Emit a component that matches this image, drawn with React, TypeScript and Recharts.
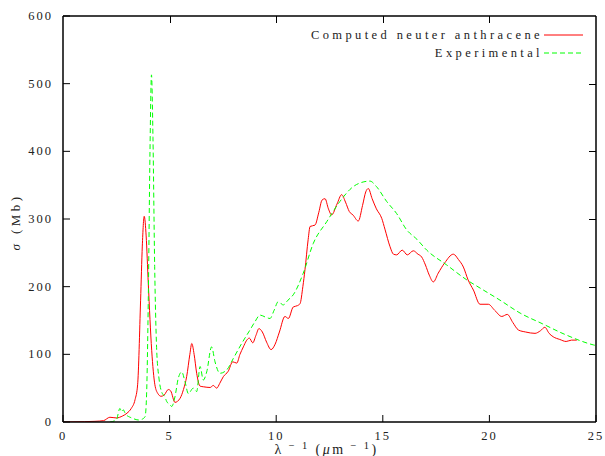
import React from "react";
import { LineChart, Line, XAxis, YAxis, Legend, CartesianGrid } from "recharts";

// computed neuter anthracene cross section
const computedX = [
  0, 1.0, 1.5, 1.9, 2.2, 2.5, 2.8, 3.0, 3.2, 3.38, 3.5, 3.64, 3.72, 3.81, 3.9, 4.0, 4.16, 4.31, 4.45, 4.6,
  4.75, 4.94, 5.05, 5.25, 5.49, 5.65, 5.8, 5.95, 6.04, 6.15, 6.27, 6.43, 6.6, 6.9, 7.05, 7.21, 7.35, 7.52, 7.75, 7.96,
  8.15, 8.3, 8.46, 8.6, 8.74, 8.9, 9.05, 9.19, 9.35, 9.55, 9.76, 9.95, 10.15, 10.41, 10.57, 10.8, 11.0, 11.12, 11.25, 11.35,
  11.5, 11.59, 11.82, 12.0, 12.15, 12.29, 12.45, 12.6, 12.85, 13.07, 13.25, 13.43, 13.6, 13.85, 14.05, 14.2, 14.32, 14.5, 14.7, 14.95,
  15.1, 15.34, 15.5, 15.65, 15.91, 16.15, 16.43, 16.65, 16.82, 17.0, 17.18, 17.37, 17.6, 17.9, 18.31, 18.55, 18.78, 19.0, 19.25, 19.56,
  19.95, 20.25, 20.58, 20.84, 21.1, 21.36, 21.7, 22.14, 22.4, 22.6, 22.8, 22.99, 23.3, 23.6, 23.85, 24.1,
];
const computedY = [
  0, 0.5, 1, 2, 7, 6, 9, 13, 20, 33, 55, 180, 260, 304, 275, 205, 106, 55, 42, 38,
  40, 48, 46, 29, 35, 48, 67, 100, 116, 100, 72, 53, 52, 51, 54, 50, 57, 67, 75, 89,
  87, 100, 111, 120, 124, 117, 128, 138, 133, 118, 107, 115, 133, 156, 153, 170, 172, 175, 200, 225,
  270, 289, 291, 310, 328, 330, 315, 306, 322, 336, 325, 311, 306, 297, 320, 340, 345, 330, 315, 301,
  285, 259, 248, 247, 254, 247, 253, 248, 244, 232, 217, 207, 220, 235, 248, 240, 229, 210, 195, 174,
  174, 165, 156, 159, 147, 136, 133, 131, 135, 140, 131, 126, 122, 119, 121, 121,
];

// experimental data
const experimentalX = [
  2.2, 2.5, 2.67, 2.75, 2.83, 2.9, 2.99, 3.15, 3.3, 3.53, 3.7, 3.85, 3.92, 4.0, 4.08, 4.15, 4.22, 4.3, 4.39, 4.5,
  4.62, 4.78, 4.87, 5.0, 5.1, 5.25, 5.41, 5.57, 5.72, 5.88, 6.11, 6.27, 6.43, 6.58, 6.74, 6.97, 7.13, 7.36, 7.68, 7.99,
  8.38, 8.77, 9.0, 9.24, 9.5, 9.71, 9.9, 10.1, 10.33, 10.55, 10.8, 11.27, 11.74, 12.37, 12.99, 13.62, 14.0, 14.4, 14.7, 15.18,
  15.65, 16.12, 16.6, 17.06, 18.0, 18.94, 19.56, 20.5, 21.44, 22.5, 23.5, 24.87, 25,
];
const experimentalY = [
  0, 3, 20, 15, 18, 14, 10, 7, 5, 3, 4, 8, 40, 180, 400, 513, 420, 230, 110, 65,
  45, 37, 30, 26, 23, 37, 65, 74, 60, 42, 50, 45, 82, 62, 74, 111, 89, 72, 77, 94,
  116, 136, 148, 158, 155, 153, 165, 178, 173, 180, 188, 220, 264, 296, 326, 348, 354, 356, 348, 326,
  308, 284, 270, 254, 232, 210, 198, 180, 161, 145, 130, 114, 113,
];

const xTicks = [0, 5, 10, 15, 20, 25];
const yTicks = [0, 100, 200, 300, 400, 500, 600];
const X_MAX = 25;
const Y_MAX = 600;

const computed = computedX.map((x, i) => ({ x, y: computedY[i] }));
const experimental = experimentalX.map((x, i) => ({ x, y: experimentalY[i] }));

const W = 605;
const H = 456;
const Y_AXIS_W = 63;
const X_AXIS_H = 34;
const MARGIN = { top: 16, right: 9, bottom: 0, left: 0 };
const PLOT_LEFT = MARGIN.left + Y_AXIS_W;
const PLOT_TOP = MARGIN.top;
const PLOT_W = W - MARGIN.right - PLOT_LEFT;
const PLOT_H = H - X_AXIS_H - PLOT_TOP;
const TICK = 7;

const FONT = "'Liberation Serif', serif";
const TEXT = "#222";
const AXIS = { stroke: "#000", strokeWidth: 1.5 };

// with tickSize = -TICK and tickMargin = TICK the label anchor lands on the axis line
const BottomTick = (props: any) => (
  <text x={props.x} y={Number(props.y) + 18} textAnchor="middle" fontFamily={FONT} fontSize={12.5} letterSpacing={2} fill={TEXT}>
    {props.payload.value}
  </text>
);
const LeftTick = (props: any) => (
  <text x={Number(props.x) - 10} y={Number(props.y) + 4} textAnchor="end" fontFamily={FONT} fontSize={12.5} letterSpacing={2} fill={TEXT}>
    {props.payload.value}
  </text>
);

const YLabel = ({ viewBox }: any) => {
  const cx = 20;
  const cy = viewBox.y + viewBox.height / 2 + 3;
  return (
    <text x={cx} y={cy} transform={`rotate(-90 ${cx} ${cy})`} textAnchor="middle" fontFamily={FONT} fontSize={13} letterSpacing={3.4} fill={TEXT}>
      <tspan fontStyle="italic">σ</tspan> (Mb)
    </text>
  );
};

const XLabel = ({ viewBox }: any) => {
  const cx = viewBox.x + viewBox.width / 2 - 3;
  return (
    <text x={cx} y={454} textAnchor="middle" fontFamily={FONT} fontSize={14} letterSpacing={2.4} fill={TEXT}>
      λ<tspan dy={-5} fontSize={10.5}> − 1</tspan>
      <tspan dy={5}> (</tspan>
      <tspan fontStyle="italic">μ</tspan>m<tspan dy={-5} fontSize={10.5}> − 1</tspan>
      <tspan dy={5}>)</tspan>
    </text>
  );
};

// mirrored top/right ticks, drawn from the legend so they sit inside the chart wrapper
const MirrorTicks = ({ offsetLeft, offsetTop }: { offsetLeft: number; offsetTop: number }) => {
  const px = (t: number) => PLOT_LEFT + (t / X_MAX) * PLOT_W - offsetLeft;
  const py = (t: number) => PLOT_TOP + PLOT_H - (t / Y_MAX) * PLOT_H - offsetTop;
  const bar = (left: number, top: number, width: number, height: number, key: string) => (
    <div key={key} style={{ position: "absolute", left, top, width, height, background: "#000" }} />
  );
  return (
    <>
      {xTicks.slice(1, -1).map((t) => bar(Math.round(px(t)), PLOT_TOP - offsetTop, 1, TICK, `xt${t}`))}
      {yTicks.slice(1, -1).map((t) => bar(PLOT_LEFT + PLOT_W - TICK - offsetLeft, Math.round(py(t)), TICK, 1, `yr${t}`))}
    </>
  );
};

const LEGEND_LEFT = 280;
const LEGEND_TOP = 26;

const LegendBox = () => {
  const items = [
    { name: "Computed neuter anthracene", color: "#ff0000", dash: undefined },
    { name: "Experimental", color: "#00ff00", dash: "5 3" },
  ];
  return (
    <div style={{ position: "relative", fontFamily: FONT, fontSize: 12.5, letterSpacing: 3.4, color: TEXT }}>
      {items.map((it) => (
        <div key={it.name} style={{ display: "flex", justifyContent: "flex-end", alignItems: "center", height: 18 }}>
          <span>{it.name}</span>
          <svg width={39} height={4} style={{ marginLeft: 1 }}>
            <line x1={0} x2={39} y1={2} y2={2} stroke={it.color} strokeDasharray={it.dash} />
          </svg>
        </div>
      ))}
      <MirrorTicks offsetLeft={LEGEND_LEFT} offsetTop={LEGEND_TOP} />
    </div>
  );
};

export default function App() {
  return (
    <div style={{ position: "absolute", left: 0, top: 0, width: W, height: H, background: "#fff" }}>
      <LineChart width={W} height={H} margin={MARGIN}>
        {/* top and right edges of the box */}
        <CartesianGrid
          horizontalPoints={[PLOT_TOP]}
          verticalPoints={[PLOT_LEFT + PLOT_W]}
          stroke="#000"
          strokeWidth={1.5}
        />
        <XAxis
          type="number"
          dataKey="x"
          domain={[0, X_MAX]}
          ticks={xTicks}
          allowDataOverflow
          height={X_AXIS_H}
          tickSize={-TICK}
          tickMargin={TICK}
          tickLine={{ stroke: "#000" }}
          tick={BottomTick}
          axisLine={AXIS}
          label={<XLabel />}
        />
        <YAxis
          type="number"
          domain={[0, Y_MAX]}
          ticks={yTicks}
          allowDataOverflow
          width={Y_AXIS_W}
          tickSize={-TICK}
          tickMargin={TICK}
          tickLine={{ stroke: "#000" }}
          tick={LeftTick}
          axisLine={AXIS}
          label={<YLabel />}
        />
        <Legend
          layout="horizontal"
          verticalAlign="middle"
          content={<LegendBox />}
          wrapperStyle={{ top: LEGEND_TOP, left: LEGEND_LEFT, width: 303, height: 40, overflow: "visible" }}
        />
        <Line
          data={computed}
          dataKey="y"
          name="Computed neuter anthracene"
          type="monotone"
          stroke="#ff0000"
          strokeWidth={1}
          dot={false}
          isAnimationActive={false}
        />
        <Line
          data={experimental}
          dataKey="y"
          name="Experimental"
          type="monotone"
          stroke="#00ff00"
          strokeWidth={1}
          strokeDasharray="5 3"
          dot={false}
          isAnimationActive={false}
        />
      </LineChart>
    </div>
  );
}
